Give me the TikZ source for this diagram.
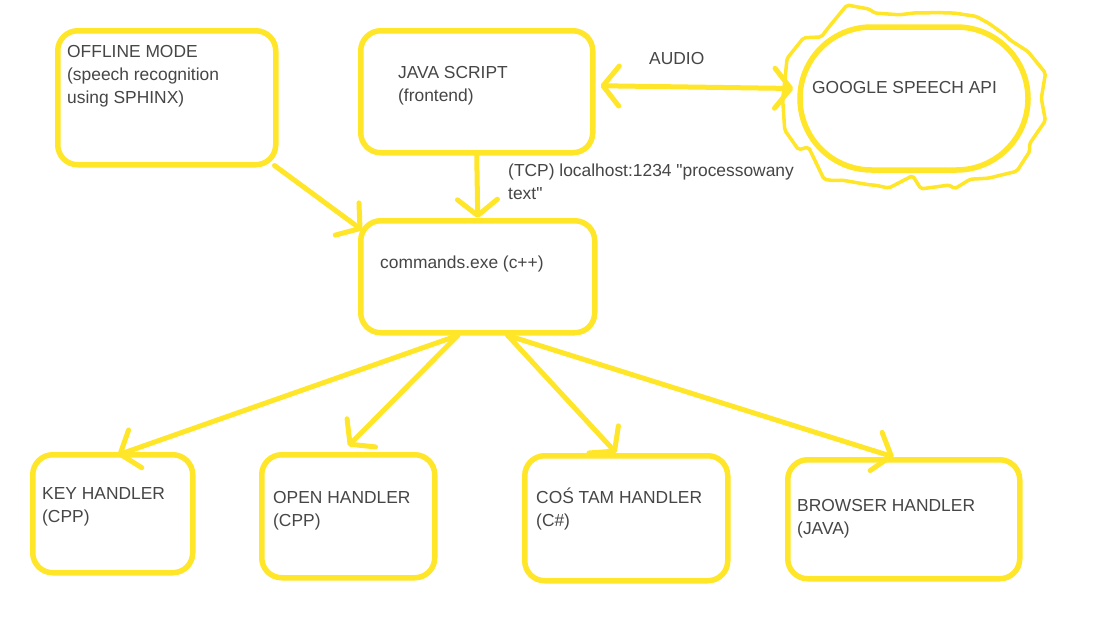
\documentclass[tikz,border=0pt]{standalone}
\usepackage{fontspec}
\setmainfont{Liberation Sans}[Ligatures=TeXOff]
\usetikzlibrary{arrows.meta,calc,decorations.pathmorphing,shapes.misc}
\definecolor{hy}{RGB}{255,230,40}
\definecolor{tx}{RGB}{70,70,70}
\begin{document}
\begin{tikzpicture}[x=1pt,y=-1pt,
  box/.style={draw=hy, line width=5.5pt, rounded corners=20pt, anchor=north west, inner sep=0pt},
  lbl/.style={anchor=north west, inner sep=0pt, text=tx, font=\fontsize{17.4}{23}\selectfont, align=left},
  conn/.style={draw=hy, line width=5pt, line cap=round, -{Straight Barb[length=16pt,width=40pt,round]}},
  dconn/.style={draw=hy, line width=5pt, line cap=round, {Straight Barb[length=16pt,width=40pt,round]}-{Straight Barb[length=16pt,width=40pt,round]}},
]
\useasboundingbox[fill=white] (0,0) rectangle (1103,629);
\pgfmathsetseed{11}

% boxes
\node[box, minimum width=218pt, minimum height=134pt] (off) at (55,28) {};
\node[box, minimum width=232pt, minimum height=122pt] (js) at (358,28) {};
\node[box, minimum width=234pt, minimum height=112pt] (cmd) at (358,218) {};
\node[box, minimum width=160pt, minimum height=118pt] (key) at (30,452) {};
\node[box, minimum width=173pt, minimum height=123pt] (open) at (259,452) {};
\node[box, minimum width=203pt, minimum height=125pt] (cos) at (522,453) {};
\node[box, minimum width=232pt, minimum height=119pt] (br) at (785,457) {};

% google speech api
\node[rounded rectangle, draw=hy, line width=3.5pt, line join=round, minimum width=258pt, minimum height=172pt,
      decorate, decoration={random steps, segment length=18pt, amplitude=11pt}, rounded corners=2pt]
      (gw) at (912,99) {};
\node[rounded rectangle, draw=hy, fill=white, line width=5.5pt, minimum width=228pt, minimum height=143pt, inner sep=0pt]
      (g) at (914,98.5) {};

% labels
\node[lbl] (toff) at (67,45) {OFFLINE MODE\\(speech recognition\\using SPHINX)};
\node[lbl] (tjs) at (398,66) {JAVA SCRIPT\\(frontend)};
\node[lbl] (taudio) at (649,52) {AUDIO};
\node[lbl] (tg) at (812,81) {GOOGLE SPEECH API};
\node[lbl] (ttcp) at (508,164) {(TCP) localhost:1234 "processowany\\text"};
\node[lbl] (tcmd) at (380,256) {commands.exe (c++)};
\node[lbl] (tkey) at (42,487) {KEY HANDLER\\(CPP)};
\node[lbl] (topen) at (273,491) {OPEN HANDLER\\(CPP)};
\node[lbl] (tcos) at (536,491) {\smash{COŚ} TAM HANDLER\\(C\#)};
\node[lbl] (tbr) at (797,499) {BROWSER HANDLER\\(JAVA)};

% connectors
\draw[conn] ($(off.south east)+(-4,-2)$) -- ($(cmd.north west)+(4,12)$);
\draw[conn] (js.south) -- (cmd.north);
\draw[dconn] ($(js.east)+(5,-6)$) -- ($(g.west)+(-4,-10)$);
\draw[conn] ($(cmd.south)+(-20,0)$) -- ($(key.north)+(5,3)$);
\draw[conn] ($(cmd.south)+(-20,0)$) -- ($(open.north)+(0,-6)$);
\draw[conn] ($(cmd.south)+(30,0)$) -- ($(cos.north)+(-10,0)$);
\draw[conn] ($(cmd.south)+(30,0)$) -- ($(br.north)+(-10,0)$);
\end{tikzpicture}
\end{document}
